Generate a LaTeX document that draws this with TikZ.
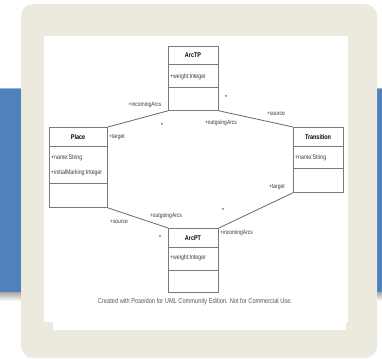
\documentclass[tikz,border=0pt]{standalone}
\usepackage{fontspec}
\setmainfont{Liberation Sans}
\definecolor{beige}{HTML}{ECE9DF}
\definecolor{band}{HTML}{4F81BD}
\definecolor{boxline}{HTML}{7A7A7A}
\definecolor{txt}{HTML}{3A3A3A}
\newcommand\narrowtxt[1]{\scalebox{0.8}[1]{#1}}
\tikzset{
  cls/.style={draw=boxline, line width=0.8pt, fill=white, inner sep=0pt, anchor=north west},
  divider/.style={draw=boxline, line width=0.9pt},
  assoc/.style={draw=boxline!85!black, line width=0.8pt},
  lbl/.style={text=txt, font=\fontsize{6.2}{7}\selectfont, inner sep=0pt},
  clsname/.style={text=black, font=\fontsize{6.8}{7}\selectfont\bfseries, inner sep=0pt},
  attr/.style={text=txt, font=\fontsize{6.5}{7}\selectfont, inner sep=0pt, anchor=west},
}
\begin{document}
\begin{tikzpicture}[x=1pt,y=-1pt]
\useasboundingbox (0,0) rectangle (382,358);
% blue band with shadow
\shade[top color=gray!70, bottom color=white] (0,292) rectangle (382,301);
\fill[band] (0,88) rectangle (382,292);
\draw[band!60!white, line width=0.6pt] (0,88.3) -- (382,88.3);
% beige panel
\fill[beige, rounded corners=12pt] (21,4) rectangle (377,358);
% white page
\fill[white] (44,36) rectangle (348,322);
\fill[white] (53,36) rectangle (346,330);

% classes
\node[cls, minimum width=50pt, minimum height=64pt] (arctp) at (168,46) {};
\node[cls, minimum width=58pt, minimum height=80pt] (place) at (49,127) {};
\node[cls, minimum width=50pt, minimum height=65pt] (trans) at (293,127) {};
\node[cls, minimum width=50pt, minimum height=64pt] (arcpt) at (168,228) {};

% dividers
\draw[divider] (168,64) -- (218,64) (168,87) -- (218,87);
\draw[divider] (49,146) -- (107,146) (49,183) -- (107,183);
\draw[divider] (293,146) -- (343,146) (293,168) -- (343,168);
\draw[divider] (168,247) -- (218,247) (168,270) -- (218,270);

% names
\node[clsname] (arctpname) at (193,55.5) {\narrowtxt{ArcTP}};
\node[clsname] (placename) at (78,137.5) {\narrowtxt{Place}};
\node[clsname] (transname) at (318,137.5) {\narrowtxt{Transition}};
\node[clsname] (arcptname) at (193,238.5) {\narrowtxt{ArcPT}};

% attributes
\node[attr] (a1) at (170,76.5) {\narrowtxt{+weight:Integer}};
\node[attr] (a2) at (51,158) {\narrowtxt{+name:String}};
\node[attr] (a3) at (51,173) {\narrowtxt{+initialMarking:Integer}};
\node[attr] (a4) at (295,158) {\narrowtxt{+name:String}};
\node[attr] (a5) at (170,258) {\narrowtxt{+weight:Integer}};

% associations
\draw[assoc] (place.north east) -- (arctp.south west);
\draw[assoc] (arctp.south east) -- (trans.north west);
\draw[assoc] (place.south east) -- (arcpt.north west);
\draw[assoc] (trans.south west) -- (arcpt.north east);

% role labels
\node[lbl] (l1) at (145,105) {\narrowtxt{+incomingArcs}};
\node[lbl] (l2) at (162,125) {*};
\node[lbl, anchor=west] (l3) at (109,137) {\narrowtxt{+target}};
\node[lbl] (l4) at (226,97) {*};
\node[lbl] (l5) at (276,114) {\narrowtxt{+source}};
\node[lbl] (l6) at (221,123) {\narrowtxt{+outgoingArcs}};
\node[lbl] (l7) at (277,187) {\narrowtxt{+target}};
\node[lbl] (l8) at (223,210) {*};
\node[lbl, anchor=west] (l9) at (220,233) {\narrowtxt{+incomingArcs}};
\node[lbl] (l10) at (166,216) {\narrowtxt{+outgoingArcs}};
\node[lbl] (l11) at (119,222) {\narrowtxt{+source}};
\node[lbl] (l12) at (160,237) {*};

% caption
\node[text=txt!85, font=\fontsize{7.1}{8}\selectfont, inner sep=0pt] (cap) at (195,302) {\narrowtxt{Created with Poseidon for UML Community Edition. Not for Commercial Use.}};
\end{tikzpicture}
\end{document}
